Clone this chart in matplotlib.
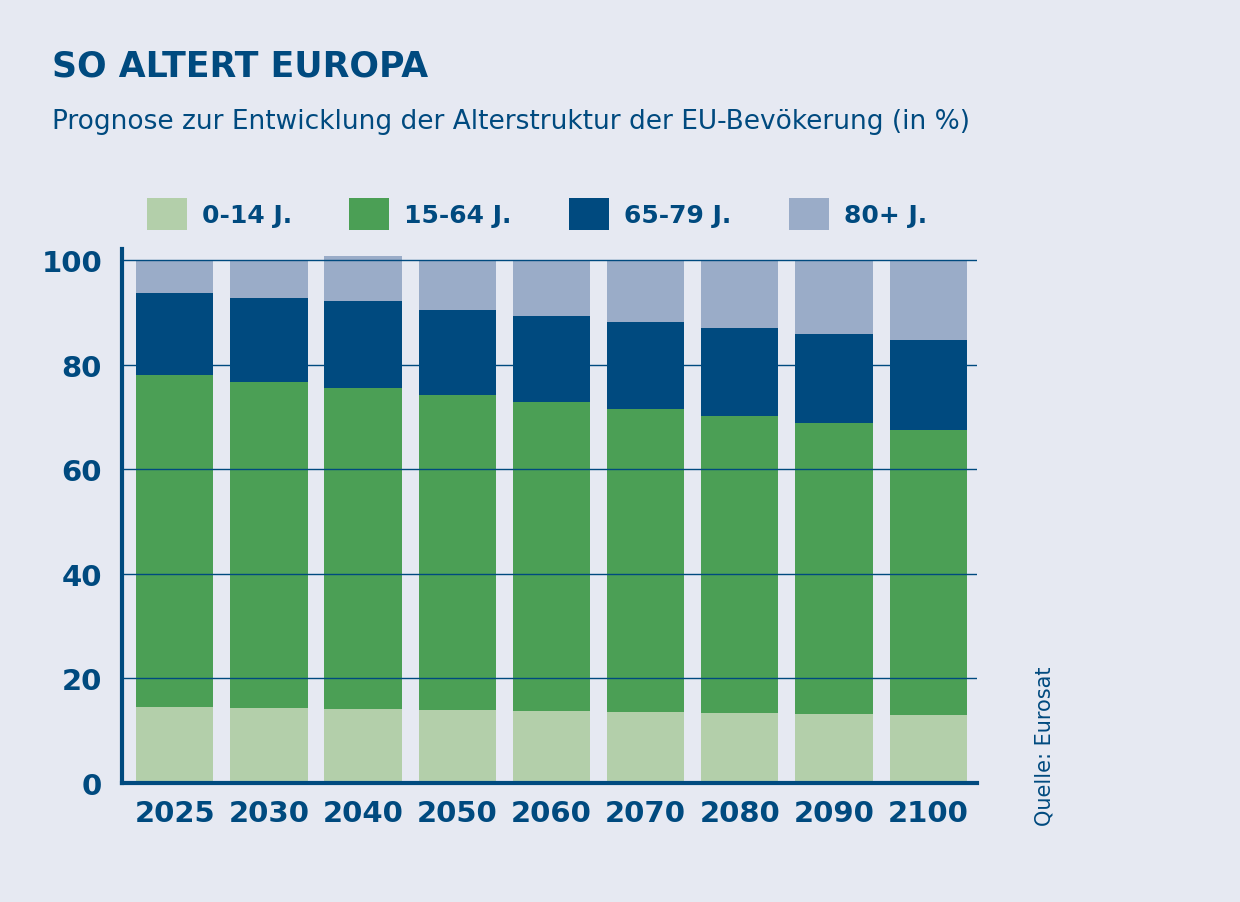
import matplotlib.pyplot as plt
import numpy as np

years = ["2025","2030","2040","2050","2060","2070","2080","2090","2100"]
labels = ["0-14 J.", "15-64 J.", "65-79 J.", "80+ J."]
a0_14 = [14.5,14.3,14.1,14.0,13.8,13.6,13.4,13.2,13.0]
a15_64 = [63.5,62.4,61.4,60.2,59.0,57.9,56.8,55.6,54.5]
a65_79 = [15.7,16.0,16.7,16.2,16.5,16.6,16.8,17.1,17.2]
a80 = [6.3,7.3,8.6,9.6,10.7,11.9,13.0,14.1,15.3]

colors = ["#B3CFAA","#4B9F55","#004A7F","#9AACC8"]
navy = "#004A7F"
bg = "#E6E9F2"

fig = plt.figure(figsize=(12.4,9.03), dpi=100, facecolor=bg)
ax = fig.add_axes([0.098,0.132,0.69,0.591], facecolor=bg)
x = np.arange(len(years))
bottom = np.zeros(len(years))
for vals,c,l in zip([a0_14,a15_64,a65_79,a80],colors,labels):
    ax.bar(x,vals,width=0.82,bottom=bottom,color=c,label=l,zorder=2)
    bottom += np.array(vals)
ax.set_xlim(-0.565,8.52)
ax.set_ylim(0,102.1)
ax.set_yticks([0,20,40,60,80,100])
for yv in [20,40,60,80,100]:
    ax.axhline(yv,color=navy,lw=1,zorder=3)
for s in ["top","right"]:
    ax.spines[s].set_visible(False)
for s in ["left","bottom"]:
    ax.spines[s].set_color(navy); ax.spines[s].set_linewidth(3)
ax.tick_params(length=0,labelsize=21,colors=navy)
ax.set_xticks(x); ax.set_xticklabels(years,fontweight="bold")
for t in ax.get_yticklabels(): t.set_fontweight("bold")
ax.tick_params(axis='y',pad=14)
ax.tick_params(axis='x',pad=12)

fig.text(0.042,0.915,"SO ALTERT EUROPA",fontsize=25,fontweight="semibold",color=navy)
fig.text(0.042,0.857,"Prognose zur Entwicklung der Alterstruktur der EU-Bevökerung (in %)",fontsize=19,color=navy)
fig.legend(loc="upper left",bbox_to_anchor=(0.10,0.805),ncol=4,frameon=False,
           handlelength=1.6,handleheight=1.6,columnspacing=2.3,handletextpad=0.6,labelcolor=navy,
           prop={"weight":"bold","size":18})
fig.text(0.842,0.085,"Quelle: Eurosat",rotation=90,fontsize=15,color=navy,ha="center",va="bottom")
fig.savefig("out.png",dpi=100,facecolor=bg)
